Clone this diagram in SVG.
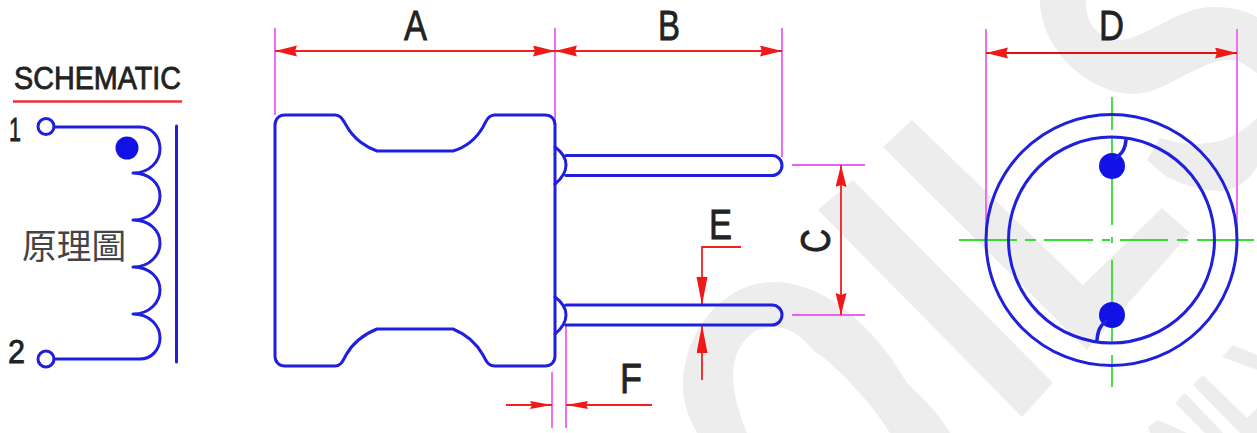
<svg xmlns="http://www.w3.org/2000/svg" width="1257" height="433" viewBox="0 0 1257 433">
<defs>
<style>
.wm{fill:#ededed;stroke:none}
.b{fill:none;stroke:#1f1fdc;stroke-width:3;stroke-linecap:round;stroke-linejoin:round}
.dot{fill:#1212e6;stroke:none}
.d{fill:none;stroke:#f02020;stroke-width:1.800}
.m{fill:none;stroke:#ee60ee;stroke-width:1.800}
.g{fill:none;stroke:#33dd33;stroke-width:1.800}
.t{font-family:"Liberation Sans",Arial,sans-serif;fill:#222;stroke:#222;stroke-width:.8}
.dim{font-size:42px}
</style>
<marker id="ah" markerUnits="userSpaceOnUse" markerWidth="24" markerHeight="12" refX="22" refY="5.500" orient="auto-start-reverse"><path d="M0 0L22 5.500L0 11L2 5.500Z" fill="#f01818"/></marker>
<marker id="av" markerUnits="userSpaceOnUse" markerWidth="30" markerHeight="12" refX="28" refY="5.500" orient="auto"><path d="M0 0L28 5.500L0 11Z" fill="#f01818"/></marker>
<marker id="af" markerUnits="userSpaceOnUse" markerWidth="24" markerHeight="10" refX="22" refY="4" orient="auto"><path d="M0 0L22 4L0 8L2 4Z" fill="#f01818"/></marker>
</defs>
<rect width="1257" height="433" fill="#fff"/>
<g id="watermark">
<path class="wm" d="M853 180L1053 383L1022 417L818 210Z"/>
<path class="wm" d="M912 120L1083 285L1162 208L1190 233L1087 350L883 147Z"/>
<path class="wm" d="M683 387C683 330 725 282 773 282C830 282 880 335 907 383C925 400 940 415 950 433H890C870 400 830 360 815 352C800 335 790 327 773 327C748 327 733 350 733 377C733 395 740 415 747 433H697C690 420 683 405 683 387Z"/>
<path class="wm" d="M1040 0H1086C1085 20 1095 40 1123 40C1150 35 1180 7 1213 7C1230 7 1245 10 1257 17V73C1245 65 1240 60 1233 60C1215 58 1190 73 1170 83C1155 90 1145 94 1133 94C1090 94 1040 50 1040 0Z"/>
<path class="wm" d="M1147 160L1160 138C1175 142 1190 146 1207 143C1225 142 1243 132 1257 118V167C1250 178 1243 183 1237 187C1225 192 1215 191 1207 190C1190 188 1175 180 1167 177Z"/>
<path class="wm" d="M1222 357L1233 345L1257 355V370Z"/>
<path class="wm" d="M1193 385L1203 375L1247 418L1257 408V433H1240Z"/>
<path class="wm" d="M1175 403L1185 393L1223 433H1205Z"/>
<path class="wm" d="M1148 427L1158 420L1187 433H1150Z"/>
</g>
<g id="connectors">
<path class="m" d="M275 28V115M555 28V157M782 28V157M792 165H865M792 315H865M552 372V428M566 325V428M986 29V228M1237 29V228"/>
<path class="d" d="M275 51H555" marker-start="url(#ah)" marker-end="url(#ah)"/>
<path class="d" d="M555 51H782" marker-start="url(#ah)" marker-end="url(#ah)"/>
<path class="d" d="M986 53H1237" style="stroke:#d81414" marker-start="url(#ah)" marker-end="url(#ah)"/>
<path class="d" d="M841 165V315" marker-start="url(#ah)" marker-end="url(#ah)"/>
<path class="d" d="M741 247H702V305" marker-end="url(#av)"/>
<path class="d" d="M702 380V325" marker-end="url(#av)"/>
<path class="d" d="M506 405H552" marker-end="url(#af)"/>
<path class="d" d="M652 405H566" marker-end="url(#af)"/>
</g>
<g id="schematic">
<text class="t" x="14" y="89" font-size="31" textLength="167" lengthAdjust="spacingAndGlyphs">SCHEMATIC</text>
<path d="M13 101.500H182" fill="none" stroke="#f03030" stroke-width="2.500"/>
<text class="t" x="9" y="141" font-size="33" textLength="12" lengthAdjust="spacingAndGlyphs">1</text>
<text class="t" x="8" y="363" font-size="33" textLength="17" lengthAdjust="spacingAndGlyphs">2</text>
<circle class="b" cx="46" cy="126.500" r="8"/>
<circle class="b" cx="46" cy="359" r="8"/>
<path class="b" d="M54 127H140C152 127 160 137 160 149C160 161 150 173 133 173C150 173 160 184 160 196C160 208 150 220 133 220C150 220 160 231 160 243C160 255 150 267 133 267C150 267 160 278 160 290C160 302 150 314 133 314C150 314 160 326 160 338C160 349 152 359 140 359H54"/>
<path class="b" d="M176.500 126V362"/>
<circle class="dot" cx="127" cy="148" r="11.500"/>
<text x="22" y="259" font-size="34.700" font-family="'Noto Sans CJK TC',sans-serif" fill="#444">原理圖</text>
</g>
<g id="body">
<path class="b" d="M285 115H335C340 115 342 118 346 125C354 140 368 148 377 151H453C463 148 475 141 483 127C487 119 489 115 495 115H545C551 115 555 119 555 125V356C555 362 551 366 545 366H495C489 366 487 363 483 355C475 341 463 333 453 329H377C367 333 354 341 346 355C342 363 340 366 335 366H285C279 366 275 362 275 356V125C275 119 279 115 285 115Z"/>
</g>
<g id="pin-top">
<path class="b" d="M555 147Q566 155 566 165Q566 175 555 184M566 155.500H772A10 10 0 0 1 772 175.500H566"/>
</g>
<g id="pin-bottom">
<path class="b" d="M555 297Q566 305 566 315Q566 325 555 334M566 305H772A10 10 0 0 1 772 325H566"/>
</g>
<g id="end-view">
<path class="g" d="M959 240H1017M1025 240H1036M1044 240H1093M1102 240H1110M1120 240H1168M1177 240H1188M1197 240H1254M1112 97V130M1112 138V225M1112 237V243M1112 260V342M1112 355V387"/>
<circle class="b" cx="1111.500" cy="240" r="125.500"/>
<circle class="b" cx="1111.500" cy="240" r="103"/>
<circle class="dot" cx="1112" cy="166" r="13"/>
<circle class="dot" cx="1112" cy="315" r="13"/>
<path class="b" style="stroke-width:3.500" d="M1126 140C1125 150 1122 153 1116 158M1097 340C1098 330 1100 326 1106 321"/>
</g>
<g id="labels">
<text class="t dim" x="404" y="40" textLength="23" lengthAdjust="spacingAndGlyphs">A</text>
<text class="t dim" x="658" y="40" textLength="22" lengthAdjust="spacingAndGlyphs">B</text>
<text class="t dim" x="1099" y="40" textLength="25" lengthAdjust="spacingAndGlyphs">D</text>
<text class="t dim" x="709" y="239" textLength="23" lengthAdjust="spacingAndGlyphs">E</text>
<text class="t dim" x="620" y="393" textLength="22" lengthAdjust="spacingAndGlyphs">F</text>
<text class="t dim" transform="translate(830 253) rotate(-90)" textLength="24" lengthAdjust="spacingAndGlyphs">C</text>
</g>
</svg>
